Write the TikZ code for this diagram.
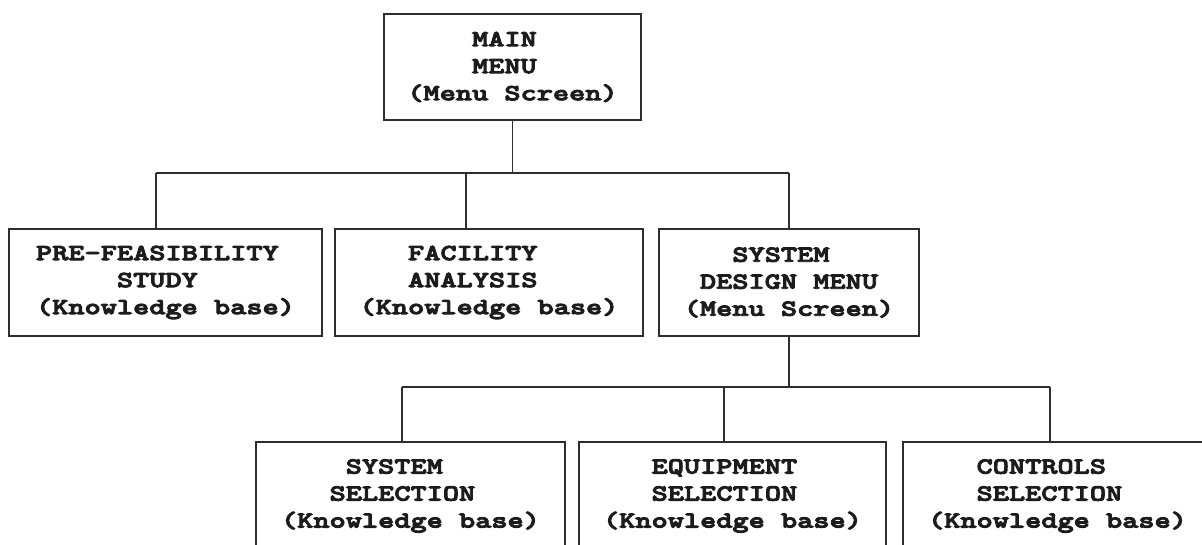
\documentclass[tikz,border=0pt]{standalone}
\usepackage{fontspec}
% a dark slab-serif typewriter face, widened to the usual pitch
\newfontfamily\boxfont[FakeStretch=1.34,FakeBold=4]{lmmonolt10-bold.otf}
\definecolor{linecol}{HTML}{2E2E2E}
\definecolor{textcol}{HTML}{1C1C1C}
% leading blank columns in the monospaced labels
\newcommand{\cols}[1]{\phantom{#1}}
\begin{document}
\begin{tikzpicture}[x=1pt,y=-1pt,
  box/.style={draw=linecol, line width=1.8pt, minimum width=#1,
    minimum height=107pt, inner sep=0pt, align=left, text=textcol,
    font=\boxfont\fontsize{23}{27}\selectfont},
  link/.style={draw=linecol, line width=1.8pt}]
\useasboundingbox (0,0) rectangle (1202,545);
\clip (0,0) rectangle (1202,545);

% top level
\node[box=257, minimum height=106pt] (main) at (512.5,67)
  {\cols{MMMM}MAIN\\\cols{MMMM}MENU\\(Menu Screen)};

% second level
\node[box=313] (pre) at (165.5,282.5)
  {PRE-FEASIBILITY\\\cols{MMMMM}STUDY\\(Knowledge base)};
\node[box=308] (fac) at (489,282.5)
  {\cols{MMM}FACILITY\\\cols{MMM}ANALYSIS\\(Knowledge base)};
\node[box=260] (sdm) at (789,282.5)
  {\cols{MMM}SYSTEM\\\cols{M}DESIGN MENU\\(Menu Screen)};

% third level (runs off the lower and right edges)
\node[box=309, minimum height=108pt] (sys) at (410.5,496)
  {\cols{MMMM}SYSTEM\\\cols{MMM}SELECTION\\(Knowledge base)};
\node[box=307, minimum height=108pt] (equ) at (732.5,496)
  {\cols{MMM}EQUIPMENT\\\cols{MMM}SELECTION\\(Knowledge base)};
\node[box=309, minimum height=108pt] (con) at (1057.5,496)
  {\cols{MMM}CONTROLS\\\cols{MMM}SELECTION\\(Knowledge base)};

% first bus
\coordinate (t1) at (156,173);
\coordinate (t2) at (466,173);
\coordinate (t3) at (789,173);
\draw[link] (main.south) -- (main.south |- t1);
\draw[link] (t1) -- (t3);
\draw[link] (t1) -- (t1 |- pre.north);
\draw[link] (t2) -- (t2 |- fac.north);
\draw[link] (t3) -- (t3 |- sdm.north);

% second bus
\coordinate (u1) at (402,387);
\coordinate (u2) at (724,387);
\coordinate (u3) at (1050,387);
\draw[link] (sdm.south) -- (sdm.south |- u1);
\draw[link] (u1) -- (u3);
\draw[link] (u1) -- (u1 |- sys.north);
\draw[link] (u2) -- (u2 |- equ.north);
\draw[link] (u3) -- (u3 |- con.north);
\end{tikzpicture}
\end{document}
